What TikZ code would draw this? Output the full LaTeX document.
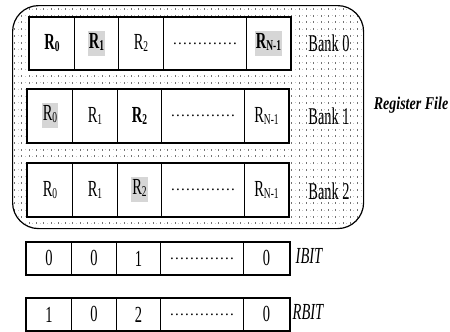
\documentclass[tikz,border=0pt]{standalone}
\usepackage{fontspec}
\setmainfont{Liberation Serif}
\newfontfamily\cf[FakeStretch=0.63]{Liberation Serif}
\newfontfamily\bkf[FakeStretch=0.6]{Liberation Serif}
\newfontfamily\rf[FakeStretch=0.78]{Liberation Serif}
\newfontfamily\df[LetterSpace=8.3]{Liberation Serif}
\definecolor{hl}{gray}{0.84}
\definecolor{dotdark}{gray}{0.45}
\definecolor{dotlight}{gray}{0.78}
\newcommand\hlb[1]{{\setlength{\fboxsep}{1pt}\colorbox{hl}{\strut#1}}}
\newcommand\Rs[1]{R\raisebox{-2pt}{\fontsize{15}{15}\selectfont #1}}
\newcommand\dts{{\df\fontsize{15}{15}\selectfont .............}}
\tikzset{
  cell/.style={draw, line width=0.9pt, anchor=north west, inner sep=0pt,
    font=\cf\fontsize{23}{23}\selectfont, fill=white},
  rowbox/.style={draw, line width=1.7pt},
  outerbox/.style={draw, line width=1.2pt, rounded corners=26pt},
  banklab/.style={font=\bkf\fontsize{24}{24}\selectfont, inner sep=0pt},
  bitlab/.style={font=\cf\fontsize{23}{23}\selectfont\itshape, inner sep=0pt},
  reglab/.style={font=\rf\fontsize{18}{18}\selectfont\bfseries\itshape, inner sep=0pt}
}
\begin{document}
\begin{tikzpicture}[x=1pt,y=-1pt]
\useasboundingbox (0,0) rectangle (450,332);
% register file outline with dotted background
\begin{scope}
  \clip[rounded corners=26pt] (12,5) rectangle (363,228);
  \foreach \yy in {8,14.7,...,227} {
    \foreach \xx in {14,21.3,...,362} {
      \fill[dotdark] (\xx,\yy) rectangle ++(0.8,2);
      \fill[dotlight] (\xx+3.65,\yy+0.6) rectangle ++(0.8,0.9);
    }
  }
\end{scope}
\node[outerbox, minimum width=351pt, minimum height=223pt, anchor=north west, inner sep=0pt] (rf) at (12,5) {};
% Bank 0
\foreach \i/\xa/\xb/\t in {0/29/74/{\bfseries\Rs{0}},1/74/118/{\hlb{\bfseries\Rs{1}}},2/118/163/{\Rs{2}},3/163/246/{\dts},4/246/290/{\hlb{\bfseries\Rs{N-1}}}}
  \node[cell, minimum width={\xb-\xa}, minimum height=52] (b0c\i) at (\xa,17) {\t};
\draw[rowbox] (b0c0.north west) rectangle (b0c4.south east);
% Bank 1
\foreach \i/\xa/\xb/\t in {0/27/72/{\hlb{\Rs{0}}},1/72/117/{\Rs{1}},2/117/161/{\bfseries\Rs{2}},3/161/244/{\dts},4/244/288/{\Rs{N-1}}}
  \node[cell, minimum width={\xb-\xa}, minimum height=53] (b1c\i) at (\xa,89) {\t};
\draw[rowbox] (b1c0.north west) rectangle (b1c4.south east);
% Bank 2
\foreach \i/\xa/\xb/\t in {0/27/72/{\Rs{0}},1/72/117/{\Rs{1}},2/117/161/{\hlb{\Rs{2}}},3/161/244/{\dts},4/244/288/{\Rs{N-1}}}
  \node[cell, minimum width={\xb-\xa}, minimum height=53] (b2c\i) at (\xa,163) {\t};
\draw[rowbox] (b2c0.north west) rectangle (b2c4.south east);
% IBIT
\foreach \i/\xa/\xb/\t in {0/26/71/0,1/71/116/0,2/116/160/1,3/160/243/{\dts},4/243/289/0}
  \node[cell, minimum width={\xb-\xa}, minimum height=32] (ib\i) at (\xa,242) {\t};
\draw[rowbox] (ib0.north west) rectangle (ib4.south east);
% RBIT
\foreach \i/\xa/\xb/\t in {0/26/71/1,1/71/116/0,2/116/160/2,3/160/243/{\dts},4/243/289/0}
  \node[cell, minimum width={\xb-\xa}, minimum height=32] (rb\i) at (\xa,298) {\t};
\draw[rowbox] (rb0.north west) rectangle (rb4.south east);
% labels
\node[banklab] (l0) at (329,43) {Bank 0};
\node[banklab] (l1) at (329,116) {Bank 1};
\node[banklab] (l2) at (329,191) {Bank 2};
\node[reglab] (lr) at (411,105) {Register File};
\node[bitlab] (li) at (309,256) {IBIT};
\node[bitlab] (lrb) at (308,312) {RBIT};
\end{tikzpicture}
\end{document}
